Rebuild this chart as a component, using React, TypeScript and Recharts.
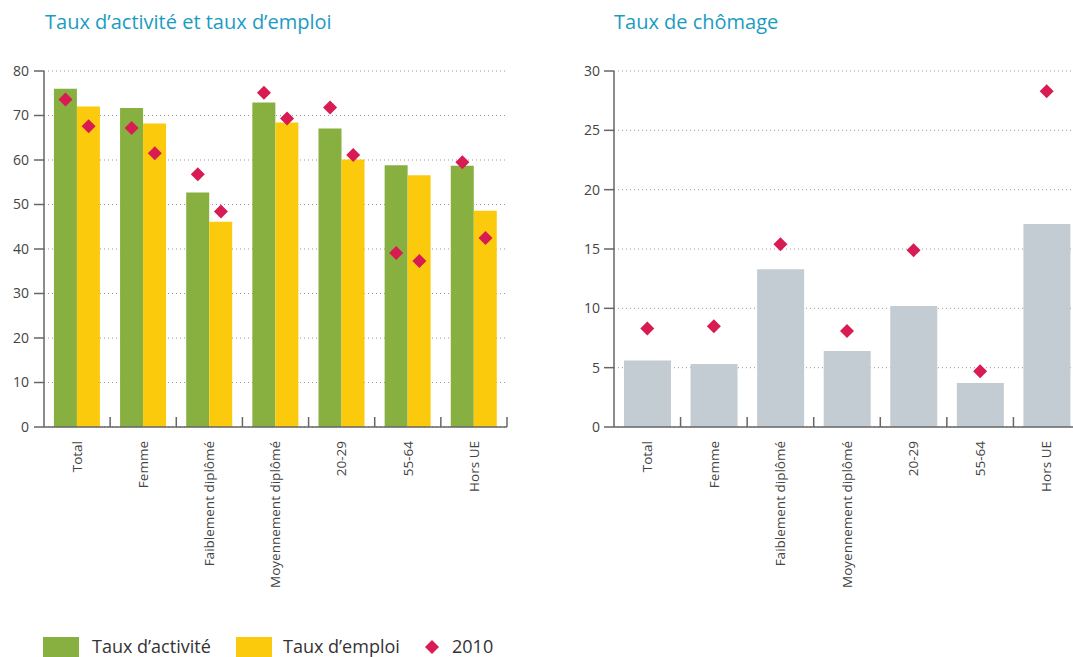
import React from 'react';
import { ComposedChart, Bar, Scatter, XAxis, YAxis, CartesianGrid } from 'recharts';

const CATEGORIES = ['Total', 'Femme', 'Faiblement diplômé', 'Moyennement diplômé', '20-29', '55-64', 'Hors UE'];
const TAUX_ACTIVITE = [76.0, 71.7, 52.7, 72.9, 67.1, 58.8, 58.7];
const TAUX_EMPLOI = [72.0, 68.2, 46.1, 68.4, 60.1, 56.6, 48.6];
const ACTIVITE_2010 = [73.6, 67.2, 56.8, 75.1, 71.8, 39.1, 59.5];
const EMPLOI_2010 = [67.6, 61.5, 48.4, 69.3, 61.1, 37.3, 42.5];
const CHOMAGE = [5.6, 5.3, 13.3, 6.4, 10.2, 3.7, 17.1];
const CHOMAGE_2010 = [8.3, 8.5, 15.4, 8.1, 14.9, 4.7, 28.3];
const TICKS_LEFT = [0, 10, 20, 30, 40, 50, 60, 70, 80];
const TICKS_RIGHT = [0, 5, 10, 15, 20, 25, 30];

const leftData = CATEGORIES.map((name, i) => ({
  name,
  activite: TAUX_ACTIVITE[i],
  emploi: TAUX_EMPLOI[i],
  activite2010: ACTIVITE_2010[i],
  emploi2010: EMPLOI_2010[i],
}));

const rightData = CATEGORIES.map((name, i) => ({
  name,
  chomage: CHOMAGE[i],
  chomage2010: CHOMAGE_2010[i],
}));

const FONT = '"Open Sans", "Noto Sans", sans-serif';
const GREEN = '#87b040';
const YELLOW = '#fcca0c';
const GREY = '#c3ccd3';
const RED = '#d81b52';
const AXIS = '#666';
const TEAL = '#1a9cc2';
const TICK_MARGIN = 14;

const Diamond = ({ cx, cy, dx = 0, r = 7 }: any) => {
  if (cx == null || cy == null) return null;
  const x = cx + dx;
  return (
    <polygon
      points={`${x},${cy - r} ${x + r},${cy} ${x},${cy + r} ${x - r},${cy}`}
      fill={RED}
    />
  );
};

const CategoryTick = ({ x, y, payload, band }: any) => (
  <g transform={`translate(${x},${y})`}>
    <line x1={band / 2} x2={band / 2} y1={-TICK_MARGIN} y2={-TICK_MARGIN - 10} stroke={AXIS} strokeWidth={1.5} />
    <text
      transform="rotate(-90)"
      x={0}
      y={0}
      dy="0.35em"
      textAnchor="end"
      fontSize={13.5}
      fill="#444"
      fontFamily={FONT}
    >
      {payload.value}
    </text>
  </g>
);

// left chart geometry
const L_WIDTH = 530;
const L_RIGHT = 23;
const L_YAXIS = 44;
const L_BAND = (L_WIDTH - L_RIGHT - L_YAXIS) / CATEGORIES.length;
const L_BAR = (L_BAND * 0.7) / 2;

// right chart geometry
const R_WIDTH = 520;
const R_YAXIS = 54;
const R_BAND = (R_WIDTH - R_YAXIS) / CATEGORIES.length;

const CHART_H = 640;

const Title = ({ left, children }: any) => (
  <div
    style={{
      position: 'absolute',
      left,
      top: 9,
      fontFamily: FONT,
      fontSize: 20,
      lineHeight: '26px',
      color: TEAL,
      whiteSpace: 'nowrap',
    }}
  >
    {children}
  </div>
);

const legendText: React.CSSProperties = {
  position: 'absolute',
  top: 636,
  fontFamily: FONT,
  fontSize: 18,
  lineHeight: '21px',
  color: '#333',
  whiteSpace: 'nowrap',
};

const LegendBox = ({ color, label, left, textLeft }: any) => (
  <>
    <div style={{ position: 'absolute', left, top: 637, width: 36, height: 20, background: color }} />
    <div style={{ ...legendText, left: textLeft }}>{label}</div>
  </>
);

export default function App() {
  return (
    <div
      style={{
        position: 'absolute',
        left: 0,
        top: 0,
        width: 1073,
        height: 657,
        overflow: 'hidden',
        background: '#fff',
      }}
    >
      <Title left={45}>Taux d’activité et taux d’emploi</Title>
      <Title left={614}>Taux de chômage</Title>

      <div style={{ position: 'absolute', left: 0, top: 0 }}>
        <ComposedChart
          width={L_WIDTH}
          height={CHART_H}
          data={leftData}
          margin={{ top: 71, right: L_RIGHT, bottom: 13, left: 0 }}
          barCategoryGap="15%"
          barGap={0}
        >
          <CartesianGrid vertical={false} stroke="#999" strokeDasharray="1 3" />
          <XAxis
            dataKey="name"
            height={200}
            interval={0}
            tickLine={false}
            tickSize={0}
            tickMargin={TICK_MARGIN}
            axisLine={{ stroke: AXIS, strokeWidth: 1.5 }}
            tick={(p: any) => <CategoryTick {...p} band={L_BAND} />}
          />
          <YAxis
            width={L_YAXIS}
            domain={[0, 80]}
            ticks={TICKS_LEFT}
            interval={0}
            tickSize={10}
            tickMargin={5}
            axisLine={{ stroke: AXIS, strokeWidth: 1.5 }}
            tickLine={{ stroke: AXIS, strokeWidth: 1.5 }}
            tick={{ fontSize: 14, fill: '#444', fontFamily: FONT }}
          />
          <Bar dataKey="activite" fill={GREEN} isAnimationActive={false} />
          <Bar dataKey="emploi" fill={YELLOW} isAnimationActive={false} />
          <Scatter
            dataKey="activite2010"
            isAnimationActive={false}
            shape={(p: any) => <Diamond {...p} dx={-L_BAR / 2} />}
          />
          <Scatter
            dataKey="emploi2010"
            isAnimationActive={false}
            shape={(p: any) => <Diamond {...p} dx={L_BAR / 2} />}
          />
        </ComposedChart>
      </div>

      <div style={{ position: 'absolute', left: 560, top: 0 }}>
        <ComposedChart
          width={R_WIDTH}
          height={CHART_H}
          data={rightData}
          margin={{ top: 71, right: 0, bottom: 13, left: 0 }}
          barCategoryGap="15%"
        >
          <CartesianGrid vertical={false} stroke="#999" strokeDasharray="1 3" />
          <XAxis
            dataKey="name"
            height={200}
            interval={0}
            tickLine={false}
            tickSize={0}
            tickMargin={TICK_MARGIN}
            axisLine={{ stroke: AXIS, strokeWidth: 1.5 }}
            tick={(p: any) => <CategoryTick {...p} band={R_BAND} />}
          />
          <YAxis
            width={R_YAXIS}
            domain={[0, 30]}
            ticks={TICKS_RIGHT}
            interval={0}
            tickSize={10}
            tickMargin={4}
            axisLine={{ stroke: AXIS, strokeWidth: 1.5 }}
            tickLine={{ stroke: AXIS, strokeWidth: 1.5 }}
            tick={{ fontSize: 14, fill: '#444', fontFamily: FONT }}
          />
          <Bar dataKey="chomage" fill={GREY} isAnimationActive={false} />
          <Scatter dataKey="chomage2010" isAnimationActive={false} shape={(p: any) => <Diamond {...p} />} />
        </ComposedChart>
      </div>

      <LegendBox color={GREEN} label="Taux d’activité" left={43} textLeft={92} />
      <LegendBox color={YELLOW} label="Taux d’emploi" left={236} textLeft={283} />
      <svg style={{ position: 'absolute', left: 425, top: 640 }} width={14} height={14}>
        <polygon points="7,0 14,7 7,14 0,7" fill={RED} />
      </svg>
      <div style={{ ...legendText, left: 452 }}>2010</div>
    </div>
  );
}
